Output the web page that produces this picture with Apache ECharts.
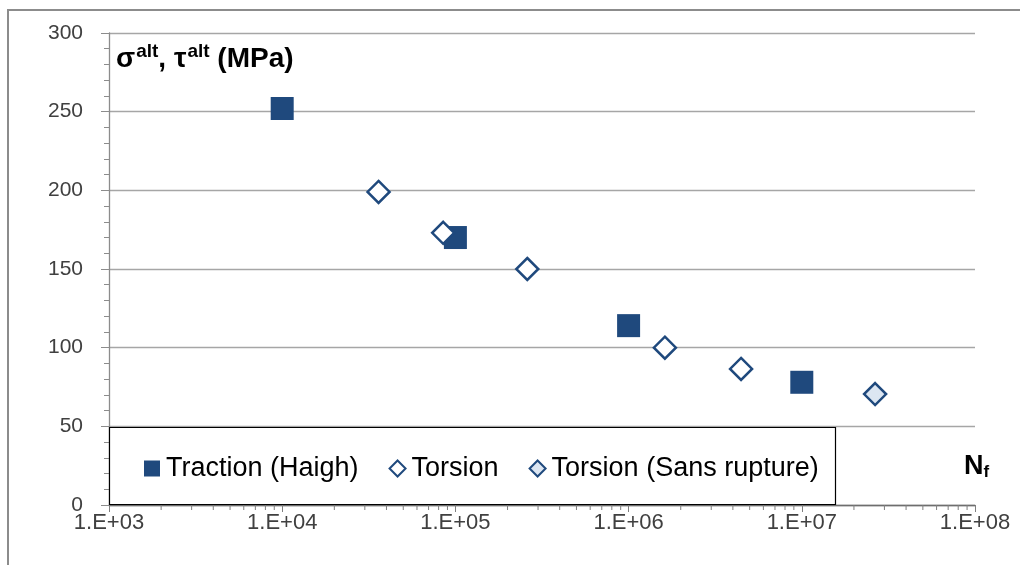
<!DOCTYPE html>
<html><head><meta charset="utf-8">
<script src="https://cdn.jsdelivr.net/npm/echarts@6/dist/echarts.min.js"></script>
<style>html,body{margin:0;padding:0;background:#fff}#c{width:1020px;height:565px}</style>
</head><body><div id="c"></div>
<script>
// Data (N cycles, amplitude MPa)
const tractionN = [1e4, 1e5, 1e6, 1e7];
const tractionS = [252, 170, 114, 78];
const torsionN = [3.6e4, 8.5e4, 2.6e5, 1.62e6, 4.46e6];
const torsionS = [199, 173, 150, 100, 86.5];
const sansRuptureN = [2.65e7];
const sansRuptureS = [70.5];
const seriesNames = ['Traction (Haigh)', 'Torsion', 'Torsion (Sans rupture)'];
const yTicks = [0, 50, 100, 150, 200, 250, 300];
const xDecades = [3, 4, 5, 6, 7, 8];

const FONT = 'Liberation Sans';
const BLUE = '#1F497D';
const LIGHT = '#DCE6F2';

// minor tick positions for the log axis (2..9 x 10^k)
const minorTicks = [];
for (let k = xDecades[0]; k < xDecades[xDecades.length - 1]; k++) {
  for (let m = 2; m <= 9; m++) minorTicks.push([m * Math.pow(10, k), 0]);
}

const zip = (a, b) => a.map((v, i) => [v, b[i]]);
const chart = echarts.init(document.getElementById('c'));
chart.setOption({
  animation: false,
  backgroundColor: '#fff',
  grid: { left: 109, right: 45, top: 33, bottom: 60, containLabel: false },
  xAxis: {
    type: 'log', logBase: 10,
    min: Math.pow(10, xDecades[0]), max: Math.pow(10, xDecades[xDecades.length - 1]),
    axisLine: { show: true, onZero: false, lineStyle: { color: '#6e6e6e', width: 1.3 } },
    axisTick: { show: true, length: 7, lineStyle: { color: '#7f7f7f' } },
    splitLine: { show: false },
    minorTick: { show: false },
    axisLabel: {
      color: '#404040', fontFamily: FONT, fontSize: 22, margin: 7,
      formatter: v => { const e = Math.round(Math.log10(v)); return '1.E+' + (e < 10 ? '0' : '') + e; }
    }
  },
  yAxis: {
    type: 'value', min: yTicks[0], max: yTicks[yTicks.length - 1], interval: 50,
    axisLine: { show: true, lineStyle: { color: '#8c8c8c', width: 1.3 } },
    axisTick: { show: true, length: 8, lineStyle: { color: '#8c8c8c' } },
    minorTick: { show: true, splitNumber: 5, length: 5, lineStyle: { color: '#8c8c8c' } },
    splitLine: { show: true, lineStyle: { color: '#a6a6a6', width: 1.3 } },
    axisLabel: { color: '#404040', fontFamily: FONT, fontSize: 21, margin: 26 }
  },
  legend: {
    left: 139, top: 450, itemWidth: 16, itemHeight: 16, itemGap: 30,
    textStyle: { fontFamily: FONT, fontSize: 27, color: '#000', padding: [0, 0, 0, 1] },
    data: seriesNames, z: 20
  },
  graphic: [
    { type: 'rect', z: 10, shape: { x: 109.5, y: 427.5, width: 726, height: 77 },
      style: { fill: '#fff', stroke: '#000', lineWidth: 1.2 } },
    { type: 'rect', z: 0, shape: { x: 8, y: 10, width: 1030, height: 600 },
      style: { fill: 'none', stroke: '#8c8c8c', lineWidth: 2 } },
    { type: 'text', z: 20, left: 116, top: 42,
      style: { text: '{b|σ}{s|alt}{b|, τ}{s|alt}{b| (MPa)}', fill: '#000',
        rich: { b: { fontFamily: FONT, fontWeight: 'bold', fontSize: 28, verticalAlign: 'bottom' },
                s: { fontFamily: FONT, fontWeight: 'bold', fontSize: 19, verticalAlign: 'top', padding: [0, 0, 12, 1] } } } },
    { type: 'text', z: 20, left: 964, top: 453,
      style: { text: '{b|N}{s|f}', fill: '#000',
        rich: { b: { fontFamily: FONT, fontWeight: 'bold', fontSize: 27 },
                s: { fontFamily: FONT, fontWeight: 'bold', fontSize: 17, padding: [12, 0, 0, 0] } } } }
  ],
  series: [
    { name: seriesNames[0], type: 'scatter', symbol: 'rect', symbolSize: 23, z: 5,
      itemStyle: { color: BLUE, opacity: 1 }, data: zip(tractionN, tractionS) },
    { name: seriesNames[1], type: 'scatter', symbol: 'diamond', symbolSize: [22, 22], z: 6,
      itemStyle: { color: '#fff', borderColor: BLUE, borderWidth: 2.5, opacity: 1 }, data: zip(torsionN, torsionS) },
    { name: seriesNames[2], type: 'scatter', symbol: 'diamond', symbolSize: [22, 22], z: 6,
      itemStyle: { color: LIGHT, borderColor: BLUE, borderWidth: 2.5, opacity: 1 }, data: zip(sansRuptureN, sansRuptureS) },
    { type: 'custom', silent: true, z: 30, data: minorTicks,
      renderItem: (params, api) => {
        const p = api.coord([api.value(0), 0]);
        return { type: 'line', shape: { x1: p[0], y1: p[1], x2: p[0], y2: p[1] + 5 },
                 style: { stroke: '#7f7f7f', lineWidth: 1 } };
      } }
  ]
});
</script></body></html>
